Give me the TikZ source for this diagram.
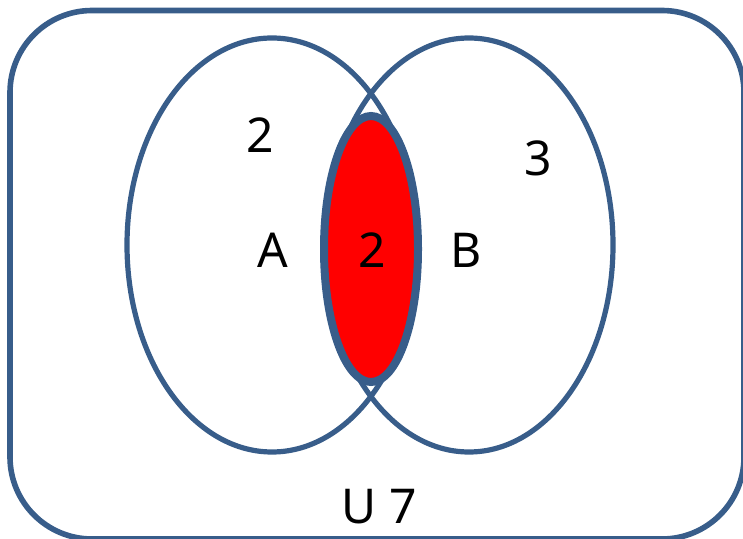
\documentclass[tikz,border=0pt]{standalone}
\usepackage{fontspec}
\setmainfont{Noto Sans}
\usetikzlibrary{shapes.geometric}

\definecolor{setblue}{RGB}{56,93,138}
\definecolor{setred}{RGB}{255,0,0}

\begin{document}
\begin{tikzpicture}[
  x=0.5pt,
  y=-0.5pt,
  font=\fontsize{24}{29}\selectfont,
  universe/.style={
    draw=setblue,
    line width=2.8pt,
    rounded corners=41pt,
    minimum width=367pt,
    minimum height=264.25pt,
    inner sep=0pt,
    outer sep=0pt
  },
  set ring/.style={
    ellipse,
    draw=setblue,
    line width=2.6pt,
    inner sep=0pt,
    outer sep=0pt
  },
  overlap/.style={
    set ring,
    fill=setred,
    line width=4pt,
    minimum width=47pt,
    minimum height=133pt
  },
  set label/.style={
    inner sep=0pt,
    text=black
  }
]

\useasboundingbox (0,0) rectangle (743,539);

% universe and the two sets
\node[universe] (univ) at (377,274.75) {};
\node[set ring,minimum width=145pt,minimum height=207pt] (set-a) at (272,245) {};
\node[set ring,minimum width=144pt,minimum height=207pt] (set-b) at (469,245) {};

% intersection
\node[overlap] (set-ab) at (371,249) {};

% labels
\node[set label] (only-a) at (260,135) {2};
\node[set label] (only-b) at (538,158) {3};
\node[set label] (name-a) at (273,250) {A};
\node[set label] (both) at (372,250) {2};
\node[set label] (name-b) at (466,250) {B};
\node[set label] (outside) at (379,507) {U 7};

\end{tikzpicture}
\end{document}
